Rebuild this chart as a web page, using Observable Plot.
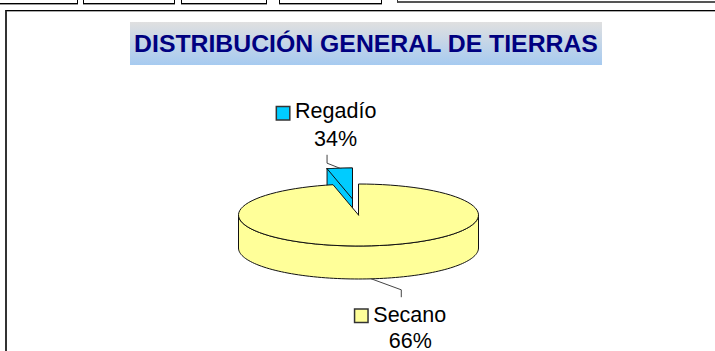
<!DOCTYPE html>
<html><head><meta charset="utf-8">
<script src="https://cdn.jsdelivr.net/npm/d3@7"></script>
<script src="https://cdn.jsdelivr.net/npm/@observablehq/plot@0.6"></script>
<style>
html,body{margin:0;padding:0;background:#fff;overflow:hidden}
#page{position:relative;width:715px;height:351px;overflow:hidden;font-family:"Liberation Sans",Arial,sans-serif}
.tab{position:absolute;top:-3px;height:5px;border:1px solid #000;box-shadow:0 1px 0 #999}
#tab5{left:397px;width:330px;height:3px;border:1px solid #333;border-bottom:2px solid #555;box-shadow:none}
#frame{position:absolute;left:5px;top:10px;width:760px;height:400px;border-top:1px solid #000;border-left:2px solid #333;box-shadow:inset 0 1px 0 #aaa}
#title{position:absolute;left:130px;top:22px;width:472px;height:43px;background:linear-gradient(#e0e0e0,#a6caf0);color:#000080;font-weight:bold;font-size:24.8px;line-height:43px;text-align:center;white-space:nowrap}
#chart{position:absolute;left:0;top:0}
#chart svg{display:block;background:transparent}
</style></head><body>
<div id="page">
<div class="tab" style="left:-2px;width:78px"></div>
<div class="tab" style="left:83px;width:90px"></div>
<div class="tab" style="left:181px;width:84px"></div>
<div class="tab" style="left:279px;width:101px"></div>
<div class="tab" id="tab5"></div>
<div id="frame"></div>
<div id="title">DISTRIBUCIÓN GENERAL DE TIERRAS</div>
<div id="chart"></div>
</div>
<script>
const categories = ["Regadío", "Secano"];
const percentLabels = ["34%", "66%"];
const drawnShares = [3.4, 96.6];
const sliceFills = ["#00CCFF", "#FFFF99"];

const W = 715, H = 351, cx = 358, cy = 214.5, rx = 120, ry = 31, depth = 33;
const TAU = Math.PI * 2;
const regadioSweep = drawnShares[0] / 100 * TAU;
const pt = (a, ox = 0, oy = 0, d = 0) => ({x: rx * Math.sin(a) + ox, y: ry * Math.cos(a) * -1 + oy + d});
const arc = (a0, a1, ox = 0, oy = 0, d = 0) => d3.range(0, 91).map(i => pt(a0 + (a1 - a0) * i / 90, ox, oy, d));

const ex = -6, ey = -16; // explosion of the irrigated slice
const blueRimL = pt(-regadioSweep, ex, ey), blueRimR = pt(0, ex, ey);
const blueApex = {x: ex, y: ey};
const down = p => ({x: p.x, y: p.y + depth});
const blueWall = [blueRimL, down(blueRimL), down(blueApex), down(blueRimR), blueRimR, blueRimL];
const blueTop = [...arc(-regadioSweep, 0, ex, ey), blueApex, blueRimL];
const yellowTop = [{x: 0, y: 0}, ...arc(0, TAU - regadioSweep), {x: 0, y: 0}];
const yellowSide = [...arc(Math.PI / 2, 3 * Math.PI / 2), ...arc(3 * Math.PI / 2, Math.PI / 2, 0, 0, depth)];
yellowSide.push(yellowSide[0]);

const midB = pt(-regadioSweep / 2, ex, ey);
const midY = pt(TAU - regadioSweep - (TAU - regadioSweep) / 2, 0, 0, depth);
const leaderB = [midB, {x: blueRimL.x, y: midB.y - 5}, {x: blueRimL.x, y: midB.y - 13}];
const leaderY = [midY, {x: midY.x + 30, y: midY.y + 11}, {x: midY.x + 30, y: midY.y + 18}];
const anchors = [
  {cat: categories[0], pct: percentLabels[0], fill: sliceFills[0], x: leaderB[2].x, y: leaderB[2].y},
  {cat: categories[1], pct: percentLabels[1], fill: sliceFills[1], x: leaderY[2].x, y: leaderY[2].y}
];
const textOpts = {x: "x", y: "y", fontSize: 21.5, fill: "#000", lineAnchor: "bottom", stroke: null};
const poly = (d, fill) => Plot.line(d, {x: "x", y: "y", fill, stroke: "#111", strokeWidth: 1, curve: "linear", strokeLinejoin: "round"});
const line = d => Plot.line(d, {x: "x", y: "y", stroke: "#444", strokeWidth: 1, curve: "linear"});

const plot = Plot.plot({
  width: W, height: H, margin: 0,
  style: {background: "transparent", fontFamily: '"Liberation Sans",Arial,sans-serif'},
  x: {domain: [-cx, W - cx], range: [0, W], axis: null},
  y: {domain: [-cy, H - cy], range: [0, H], axis: null},
  marks: [
    poly(blueWall, sliceFills[0]),
    poly(blueTop, sliceFills[0]),
    poly(yellowSide, sliceFills[1]),
    poly(yellowTop, sliceFills[1]),
    line(leaderB), line(leaderY),
    Plot.dot([anchors[0]], {x: "x", y: "y", symbol: "square", r: 7.6, fill: "fill", stroke: "#333", dx: -44, dy: -42}),
    Plot.dot([anchors[1]], {x: "x", y: "y", symbol: "square", r: 7.6, fill: "fill", stroke: "#333", dx: -40, dy: 19}),
    Plot.text([anchors[0]], {...textOpts, text: "cat", textAnchor: "start", dx: -32, dy: -37}),
    Plot.text([anchors[0]], {...textOpts, text: "pct", textAnchor: "middle", dx: 8.5, dy: -9}),
    Plot.text([anchors[1]], {...textOpts, text: "cat", textAnchor: "start", dx: -28, dy: 25}),
    Plot.text([anchors[1]], {...textOpts, text: "pct", textAnchor: "middle", dx: 9, dy: 51})
  ]
});
document.getElementById("chart").append(plot);
</script>
</body></html>
